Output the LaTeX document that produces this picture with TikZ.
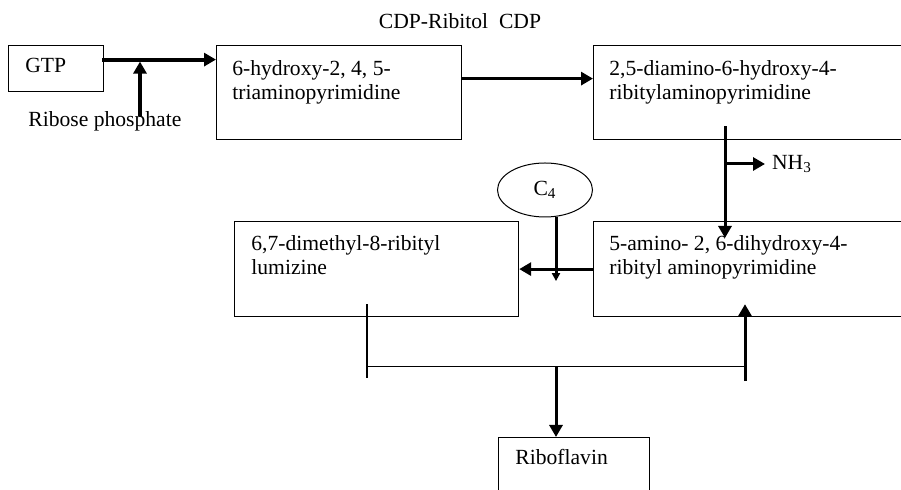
\documentclass[tikz,border=0pt]{standalone}
\usepackage{fontspec}
\setmainfont{Liberation Serif}
\usetikzlibrary{arrows.meta,calc,shapes.geometric}

\begin{document}
\begin{tikzpicture}[x=0.5pt, y=-0.5pt,
  bx/.style={draw, line width=0.6pt, anchor=north west, inner sep=0pt},
  tx/.style={anchor=north west, inner sep=0pt, align=left, font=\fontsize{10.8}{12}\selectfont},
  lb/.style={font=\fontsize{10.8}{12}\selectfont},
  ar/.style={-{Triangle[length=6pt, width=6.5pt]}, line width=1.5pt},
  arb/.style={ar, line width=2pt},
  ars/.style={-{Triangle[length=4pt, width=4pt]}, line width=1.5pt},
  ln/.style={line width=0.6pt}
]
\useasboundingbox (0,0) rectangle (901,490);
\clip (0,0) rectangle (901,490);

\node[bx, minimum width=47.5pt, minimum height=23pt] (gtp) at (8,45) {};
\node[bx, minimum width=122.5pt, minimum height=47pt] (hyd) at (216,45) {};
\node[bx, minimum width=170pt, minimum height=47pt] (dia) at (593,45) {};
\node[bx, minimum width=142pt, minimum height=47.5pt] (dim) at (234,221) {};
\node[bx, minimum width=170pt, minimum height=47.5pt] (ami) at (593,221) {};
\node[bx, minimum width=75.5pt, minimum height=40pt] (rib) at (498,437) {};
\node[ellipse, draw, line width=0.5pt, minimum width=47.5pt, minimum height=27pt, inner sep=0pt, lb] (c4) at (545,190) {C\textsubscript{4}};

\node[tx] (gtpT) at ($(gtp.north west)+(17,13)$) {GTP};
\node[tx] (hydT) at ($(hyd.north west)+(16,15)$) {6-hydroxy-2, 4, 5-\\triaminopyrimidine};
\node[tx] (diaT) at ($(dia.north west)+(16,15)$) {2,5-diamino-6-hydroxy-4-\\ribitylaminopyrimidine};
\node[tx] (dimT) at ($(dim.north west)+(17,14)$) {6,7-dimethyl-8-ribityl\\lumizine};
\node[tx] (amiT) at ($(ami.north west)+(16,14)$) {5-amino- 2, 6-dihydroxy-4-\\ribityl aminopyrimidine};
\node[tx] (ribT) at ($(rib.north west)+(17,12)$) {Riboflavin};
\node[lb, anchor=base west, inner sep=0pt] (rp) at (28,127) {Ribose phosphate};
\node[lb, inner sep=0pt] (cdp) at (460,21) {CDP-Ribitol\ \ CDP};
\node[lb, anchor=west] (nh3) at (765,164) {NH\textsubscript{3}};

\coordinate (g1) at ($(gtp.east)+(-2,-9)$);
\draw[arb] (g1) -- (g1 -| hyd.west);
\coordinate (r1) at ($(rp.north west)+(112,4)$);
\draw[arb] (r1) -- ($(r1 |- g1)+(0,2)$);
\draw[ar] ($(hyd.east)+(0,-14)$) -- ($(dia.west)+(0,-14)$);

\coordinate (d1) at ($(dia.south west)+(132,-14)$);
\draw[ar] (d1) -- ($(d1 |- ami.north)+(0,17)$);
\draw[ar] (d1 |- nh3.west) -- (nh3.west);

\coordinate (c1) at ($(c4.south)+(11,0)$);
\draw[ars] (c1) -- ($(c1 |- ami.west)+(0,12)$);
\draw[ar] (ami.west) -- (dim.east);

\coordinate (b1) at ($(dim.south west)+(133,-13)$);
\coordinate (b2) at ($(ami.south west)+(152,49)$);
\draw[ln] (b1) -- ++(0,74);
\draw[ln] (b1 |- b2) -- (b2);
\draw[ar] ($(b2)+(0,15)$) -- ($(b2 |- ami.south)+(0,-13)$);
\draw[ar] (c1 |- b2) -- (c1 |- rib.north);
\end{tikzpicture}
\end{document}
